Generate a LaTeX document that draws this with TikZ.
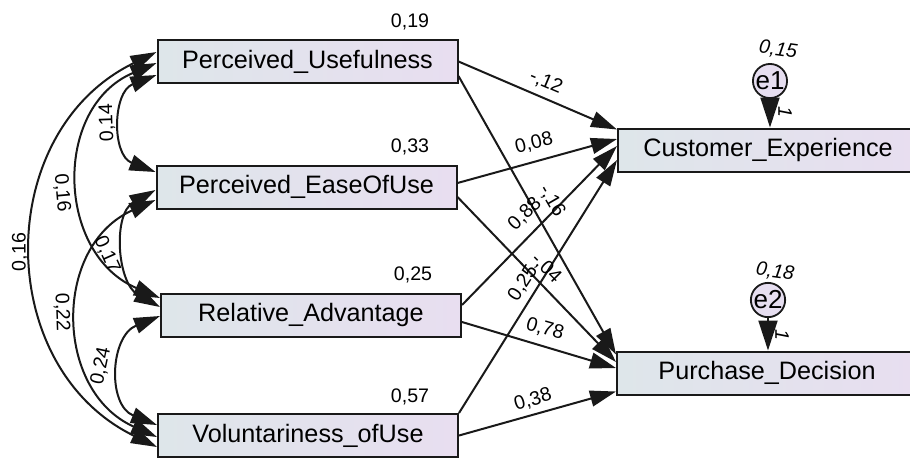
\documentclass[tikz,border=0pt]{standalone}
\usepackage{fontspec}
\setmainfont{Liberation Sans}
\usetikzlibrary{arrows.meta,calc}
\definecolor{boxL}{RGB}{222,230,234}
\definecolor{boxR}{RGB}{232,222,240}
\definecolor{errF}{RGB}{230,222,240}
\definecolor{lineC}{RGB}{25,25,25}

\begin{document}
\begin{tikzpicture}[x=0.5pt,y=-0.5pt,
  var/.style={draw=lineC,line width=1pt,left color=boxL,right color=boxR,minimum width=150pt,minimum height=21.5pt,inner sep=0pt,font=\fontsize{12.6}{15}\selectfont},
  err/.style={circle,draw=lineC,line width=0.9pt,fill=errF,minimum size=16.5pt,inner sep=0pt,font=\fontsize{13}{15}\selectfont},
  reg/.style={line width=1pt,draw=lineC,-{Triangle[length=13pt,width=8pt]}},
  cov/.style={line width=1pt,draw=lineC,{Triangle[length=13pt,width=8pt]}-{Triangle[length=13pt,width=8pt]}},
  fix/.style={line width=1pt,draw=lineC,-{Triangle[length=15pt,width=9.5pt]}},
  est/.style={inner sep=0pt,font=\fontsize{9.8}{11}\selectfont},
  estit/.style={inner sep=0pt,font=\fontsize{9.8}{11}\selectfont\itshape}]
\useasboundingbox (0,0) rectangle (910,457);

\node[var] (pu) at (307.5,61.5) {Perceived\_Usefulness};
\node[var] (peou) at (306.5,187) {Perceived\_EaseOfUse};
\node[var] (ra) at (311,315) {Relative\_Advantage};
\node[var] (vou) at (308,435.5) {Voluntariness\_ofUse};
\node[var] (ce) at (768,150) {Customer\_Experience};
\node[var] (pd) at (767,373) {Purchase\_Decision};
\node[err] (e1) at (770,81) {e1};
\node[err] (e2) at (768,300) {e2};

\draw[reg] (pu.east) -- ($(ce.north west)+(0,2)$);
\draw[reg] ($(pu.south east)+(0,-8)$) -- ($(pd.north west)+(0,4)$);
\draw[reg] ($(peou.east)+(0,-4)$) -- ($(ce.west)+(0,-11)$);
\draw[reg] ($(peou.east)+(0,10)$) -- ($(pd.west)+(0,-11)$);
\draw[reg] ($(ra.east)+(0,-10)$) -- ($(ce.west)+(0,-4)$);
\draw[reg] ($(ra.east)+(0,7)$) -- ($(pd.west)+(0,-5)$);
\draw[reg] (vou.north east) -- ($(ce.west)+(0,10)$);
\draw[reg] (vou.east) -- ($(pd.south west)+(0,-4)$);
\draw[fix] (e1) -- (e1 |- ce.north);
\draw[fix] (e2) -- (e2 |- pd.north);

\draw[cov] ($(pu.west)+(0,13.5)$) .. controls +(-44,17) and +(-44,-17) .. ($(peou.west)+(0,-15)$);
\draw[cov] ($(pu.west)+(0,1.5)$) .. controls +(-104,44) and +(-104,-44) .. ($(ra.west)+(0,-17)$);
\draw[cov] ($(pu.west)+(0,-9.5)$) .. controls +(-164,80) and +(-164,-80) .. ($(vou.west)+(0,11.5)$);
\draw[cov] ($(peou.west)+(0,3)$) .. controls +(-43,24) and +(-43,-24) .. ($(ra.west)+(0,-8)$);
\draw[cov] ($(peou.west)+(0,13)$) .. controls +(-103,46) and +(-103,-46) .. ($(vou.west)+(0,1.5)$);
\draw[cov] ($(ra.west)+(0,1)$) .. controls +(-50,20) and +(-50,-20) .. ($(vou.west)+(0,-10.5)$);

\node[est] (r2pu) at (410,22) {0,19};
\node[est] (r2peou) at (410,147) {0,33};
\node[est] (r2ra) at (413,275) {0,25};
\node[est] (r2vou) at (410,397) {0,57};
\node[estit,rotate=-8] (v1) at (778,50) {0,15};
\node[estit,rotate=-8] (v2) at (775,272) {0,18};
\node[estit,rotate=-90] (one1) at (785,112) {1};
\node[estit,rotate=-90] (one2) at (782,335) {1};

\node[est,rotate=-23] (wpuce) at (546,82) {-,12};
\node[est,rotate=14] (wpeouce) at (534,143) {0,08};
\node[est,rotate=45] (wrace) at (525,214) {0,88};
\node[est,rotate=-60] (wpupd) at (552,201) {-,16};
\node[est,rotate=57] (wvouce) at (523,283) {0,25};
\node[est,rotate=-45] (wpeoupd) at (546,268) {-,04};
\node[est,rotate=-16] (wrapd) at (545,329) {0,78};
\node[est,rotate=17] (wvoupd) at (533,400) {0,38};

\node[est,rotate=92] (cpupeou) at (107,123) {0,14};
\node[est,rotate=-85] (cpura) at (62,193) {0,16};
\node[est,rotate=90] (cpuvou) at (20,252) {0,16};
\node[est,rotate=-66] (cpeoura) at (107,255) {0,17};
\node[est,rotate=-88] (cpeouvou) at (62,312) {0,22};
\node[est,rotate=78] (cravou) at (101,366) {0,24};
\end{tikzpicture}
\end{document}
